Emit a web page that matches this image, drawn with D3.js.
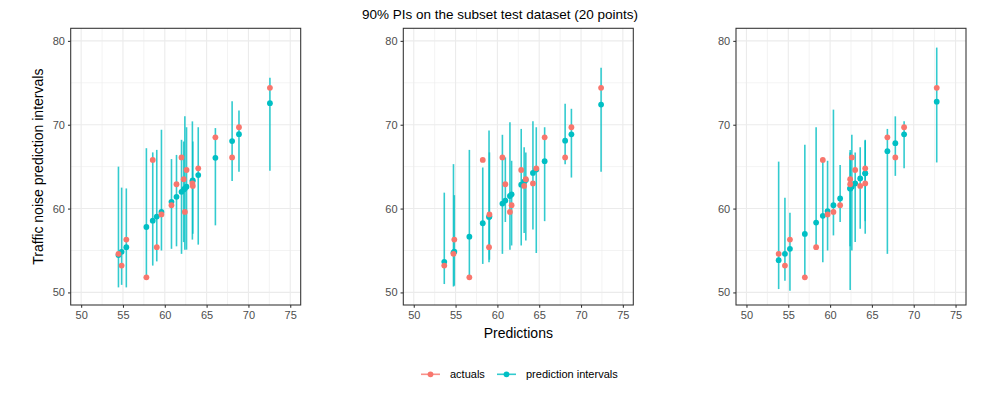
<!DOCTYPE html>
<html>
<head>
<meta charset="utf-8">
<script src="https://cdn.jsdelivr.net/npm/d3@7"></script>
<style>
  body { margin: 0; background: #fff; }
  svg { font-family: "Liberation Sans", Arial, Helvetica, sans-serif; }
  .tick-label { fill: #4d4d4d; font-size: 11px; }
  .axis-title { fill: #000; font-size: 14px; }
  .title { fill: #000; font-size: 13.5px; }
  .legend-text { fill: #000; font-size: 11px; }
</style>
</head>
<body>
<div id="chart"></div>
<script>
// actual values of the 20 test points (same for every panel)
var actuals = [54.6, 53.2, 56.3, 51.8, 65.8, 55.4, 59.3, 60.4, 62.9, 66.1,
               63.5, 59.6, 64.6, 63.0, 62.7, 64.8, 68.5, 66.1, 69.7, 74.4];

// panel 1
var preds1 = [54.46, 54.84, 55.4, 57.8, 58.56, 59.04, 59.6, 60.8, 61.4, 62.0,
              62.26, 62.4, 62.6, 63.3, 63.35, 64.0, 66.05, 68.05, 68.87, 72.57];
var lower1 = [50.6, 50.9, 50.6, 51.7, 53.2, 53.7, 55.0, 55.2, 55.5, 54.6,
              56.0, 55.1, 55.1, 56.3, 57.0, 55.7, 58.0, 63.3, 64.4, 64.5];
var upper1 = [65.0, 62.5, 62.4, 67.2, 66.7, 67.0, 69.4, 65.9, 66.4, 68.2,
              68.0, 71.0, 69.7, 70.4, 68.0, 69.7, 69.6, 72.8, 71.7, 75.6];

// panel 2
var preds2 = [54.75, 53.65, 54.85, 56.65, 58.25, 59.0, 59.05, 61.7, 60.95, 60.6,
              63.4, 61.5, 62.85, 64.25, 63.2, 64.65, 65.65, 68.1, 68.85, 72.4];
var lower2 = [50.7, 51.0, 50.8, 51.9, 53.4, 53.6, 53.9, 55.6, 58.4, 54.6,
              56.2, 55.1, 55.6, 57.5, 57.1, 54.7, 58.5, 65.3, 63.7, 64.4];
var upper2 = [65.3, 61.9, 61.6, 67.0, 64.9, 69.3, 66.7, 65.7, 66.1, 68.8,
              66.7, 70.3, 69.5, 70.4, 67.3, 69.7, 69.7, 72.5, 71.9, 76.8];

// panel 3
var preds3 = [53.85, 54.6, 55.2, 56.98, 59.13, 58.33, 59.7, 61.2, 62.4, 62.6,
              62.4, 60.4, 63.0, 64.2, 63.6, 64.2, 66.85, 67.8, 68.85, 72.75];
var lower3 = [50.4, 51.4, 50.2, 51.8, 53.6, 55.2, 55.0, 58.4, 50.3, 55.0,
              55.5, 56.8, 56.0, 57.0, 57.6, 58.5, 54.6, 63.9, 64.8, 65.5];
var upper3 = [65.6, 61.3, 59.5, 67.6, 65.6, 69.7, 65.7, 65.2, 66.7, 68.8,
              67.0, 71.8, 66.7, 68.1, 67.3, 68.2, 69.5, 71.0, 70.4, 79.2];

var xTicks = [50, 55, 60, 65, 70, 75];
var yTicks = [50, 60, 70, 80];
var xMinor = [52.5, 57.5, 62.5, 67.5, 72.5];
var yMinor = [55, 65, 75];

var legendLabels = ["actuals", "prediction intervals"];

var Chart = {
    width : 1000,
    height : 400,
    panelLefts : [70.7, 403.3, 736], // paneļu kreisās malas
    panelWidth : 230,
    panelTop : 28.3,
    panelHeight : 276.7,
    red : "#F8766D",
    teal : "#00BFC4",
    gridColor : "#EBEBEB",
    borderColor : "#333333",

    drawChart : function(){
        var svg = d3.select("#chart").append("svg")
            .attr("width", Chart.width)
            .attr("height", Chart.height);

        var panels = [
            {preds: preds1, lower: lower1, upper: upper1},
            {preds: preds2, lower: lower2, upper: upper2},
            {preds: preds3, lower: lower3, upper: upper3}
        ];

        for(var i = 0; i < panels.length; i++){
            this.drawPanel(svg, Chart.panelLefts[i], panels[i]);
        }

        // virsraksts
        svg.append("text")
            .attr("class", "title")
            .attr("x", 500)
            .attr("y", 19)
            .attr("text-anchor", "middle")
            .text("90% PIs on the subset test dataset (20 points)");

        // y ass nosaukums
        var midY = Chart.panelTop + Chart.panelHeight / 2;
        svg.append("text")
            .attr("class", "axis-title")
            .attr("transform", "translate(43," + midY + ") rotate(-90)")
            .attr("text-anchor", "middle")
            .text("Traffic noise prediction intervals");

        // x ass nosaukums vidējam panelim
        svg.append("text")
            .attr("class", "axis-title")
            .attr("x", Chart.panelLefts[1] + Chart.panelWidth / 2)
            .attr("y", 338)
            .attr("text-anchor", "middle")
            .text("Predictions");

        this.drawLegend(svg);
    },

    drawPanel : function(svg, left, panel){
        var top = Chart.panelTop;
        var x = d3.scaleLinear().domain([48.75, 76.25]).range([left, left + Chart.panelWidth]);
        var y = d3.scaleLinear().domain([48.5, 81.5]).range([top + Chart.panelHeight, top]);

        var g = svg.append("g");

        // režģis
        g.selectAll("line.minor-x").data(xMinor).enter().append("line")
            .attr("x1", function(d){ return x(d); })
            .attr("x2", function(d){ return x(d); })
            .attr("y1", top).attr("y2", top + Chart.panelHeight)
            .style("stroke", Chart.gridColor).style("stroke-width", 0.6);
        g.selectAll("line.minor-y").data(yMinor).enter().append("line")
            .attr("y1", function(d){ return y(d); })
            .attr("y2", function(d){ return y(d); })
            .attr("x1", left).attr("x2", left + Chart.panelWidth)
            .style("stroke", Chart.gridColor).style("stroke-width", 0.6);
        g.selectAll("line.major-x").data(xTicks).enter().append("line")
            .attr("x1", function(d){ return x(d); })
            .attr("x2", function(d){ return x(d); })
            .attr("y1", top).attr("y2", top + Chart.panelHeight)
            .style("stroke", Chart.gridColor).style("stroke-width", 1.1);
        g.selectAll("line.major-y").data(yTicks).enter().append("line")
            .attr("y1", function(d){ return y(d); })
            .attr("y2", function(d){ return y(d); })
            .attr("x1", left).attr("x2", left + Chart.panelWidth)
            .style("stroke", Chart.gridColor).style("stroke-width", 1.1);

        // intervāli
        var idx = d3.range(panel.preds.length);
        g.selectAll("line.pi").data(idx).enter().append("line")
            .attr("x1", function(i){ return x(panel.preds[i]); })
            .attr("x2", function(i){ return x(panel.preds[i]); })
            .attr("y1", function(i){ return y(panel.lower[i]); })
            .attr("y2", function(i){ return y(panel.upper[i]); })
            .style("stroke", Chart.teal)
            .style("stroke-width", 1.6)
            .style("opacity", 0.8);

        g.selectAll("circle.pred").data(idx).enter().append("circle")
            .attr("cx", function(i){ return x(panel.preds[i]); })
            .attr("cy", function(i){ return y(panel.preds[i]); })
            .attr("r", 2.9)
            .style("fill", Chart.teal);

        g.selectAll("circle.act").data(idx).enter().append("circle")
            .attr("cx", function(i){ return x(panel.preds[i]); })
            .attr("cy", function(i){ return y(actuals[i]); })
            .attr("r", 2.9)
            .style("fill", Chart.red);

        // rāmis
        g.append("rect")
            .attr("x", left).attr("y", top)
            .attr("width", Chart.panelWidth).attr("height", Chart.panelHeight)
            .style("fill", "none")
            .style("stroke", Chart.borderColor)
            .style("stroke-width", 1.07);

        // asis
        var bottom = top + Chart.panelHeight;
        var xAxis = g.append("g")
            .attr("transform", "translate(0," + bottom + ")")
            .call(d3.axisBottom(x).tickValues(xTicks).tickSize(2.75).tickPadding(3));
        var yAxis = g.append("g")
            .attr("transform", "translate(" + left + ",0)")
            .call(d3.axisLeft(y).tickValues(yTicks).tickSize(2.75).tickPadding(3));

        [xAxis, yAxis].forEach(function(a){
            a.select(".domain").remove();
            a.selectAll(".tick line").style("stroke", Chart.borderColor).style("stroke-width", 1.07);
            a.selectAll(".tick text")
                .attr("class", "tick-label")
                .style("font-family", "'Liberation Sans', Arial, sans-serif")
                .style("font-size", "11px")
                .style("fill", "#4d4d4d");
        });
    },

    drawLegend : function(svg){
        var keys = [
            {label: legendLabels[0], color: Chart.red, x: 421},
            {label: legendLabels[1], color: Chart.teal, x: 497}
        ];
        var ly = 374.3;
        keys.forEach(function(k){
            svg.append("line")
                .attr("x1", k.x).attr("x2", k.x + 19)
                .attr("y1", ly).attr("y2", ly)
                .style("stroke", k.color)
                .style("stroke-width", 1.6)
                .style("opacity", 0.8);
            svg.append("circle")
                .attr("cx", k.x + 9.5).attr("cy", ly)
                .attr("r", 2.9)
                .style("fill", k.color);
            svg.append("text")
                .attr("class", "legend-text")
                .attr("x", k.x + 29)
                .attr("y", ly + 4)
                .text(k.label);
        });
    }
};

Chart.drawChart();
</script>
</body>
</html>
